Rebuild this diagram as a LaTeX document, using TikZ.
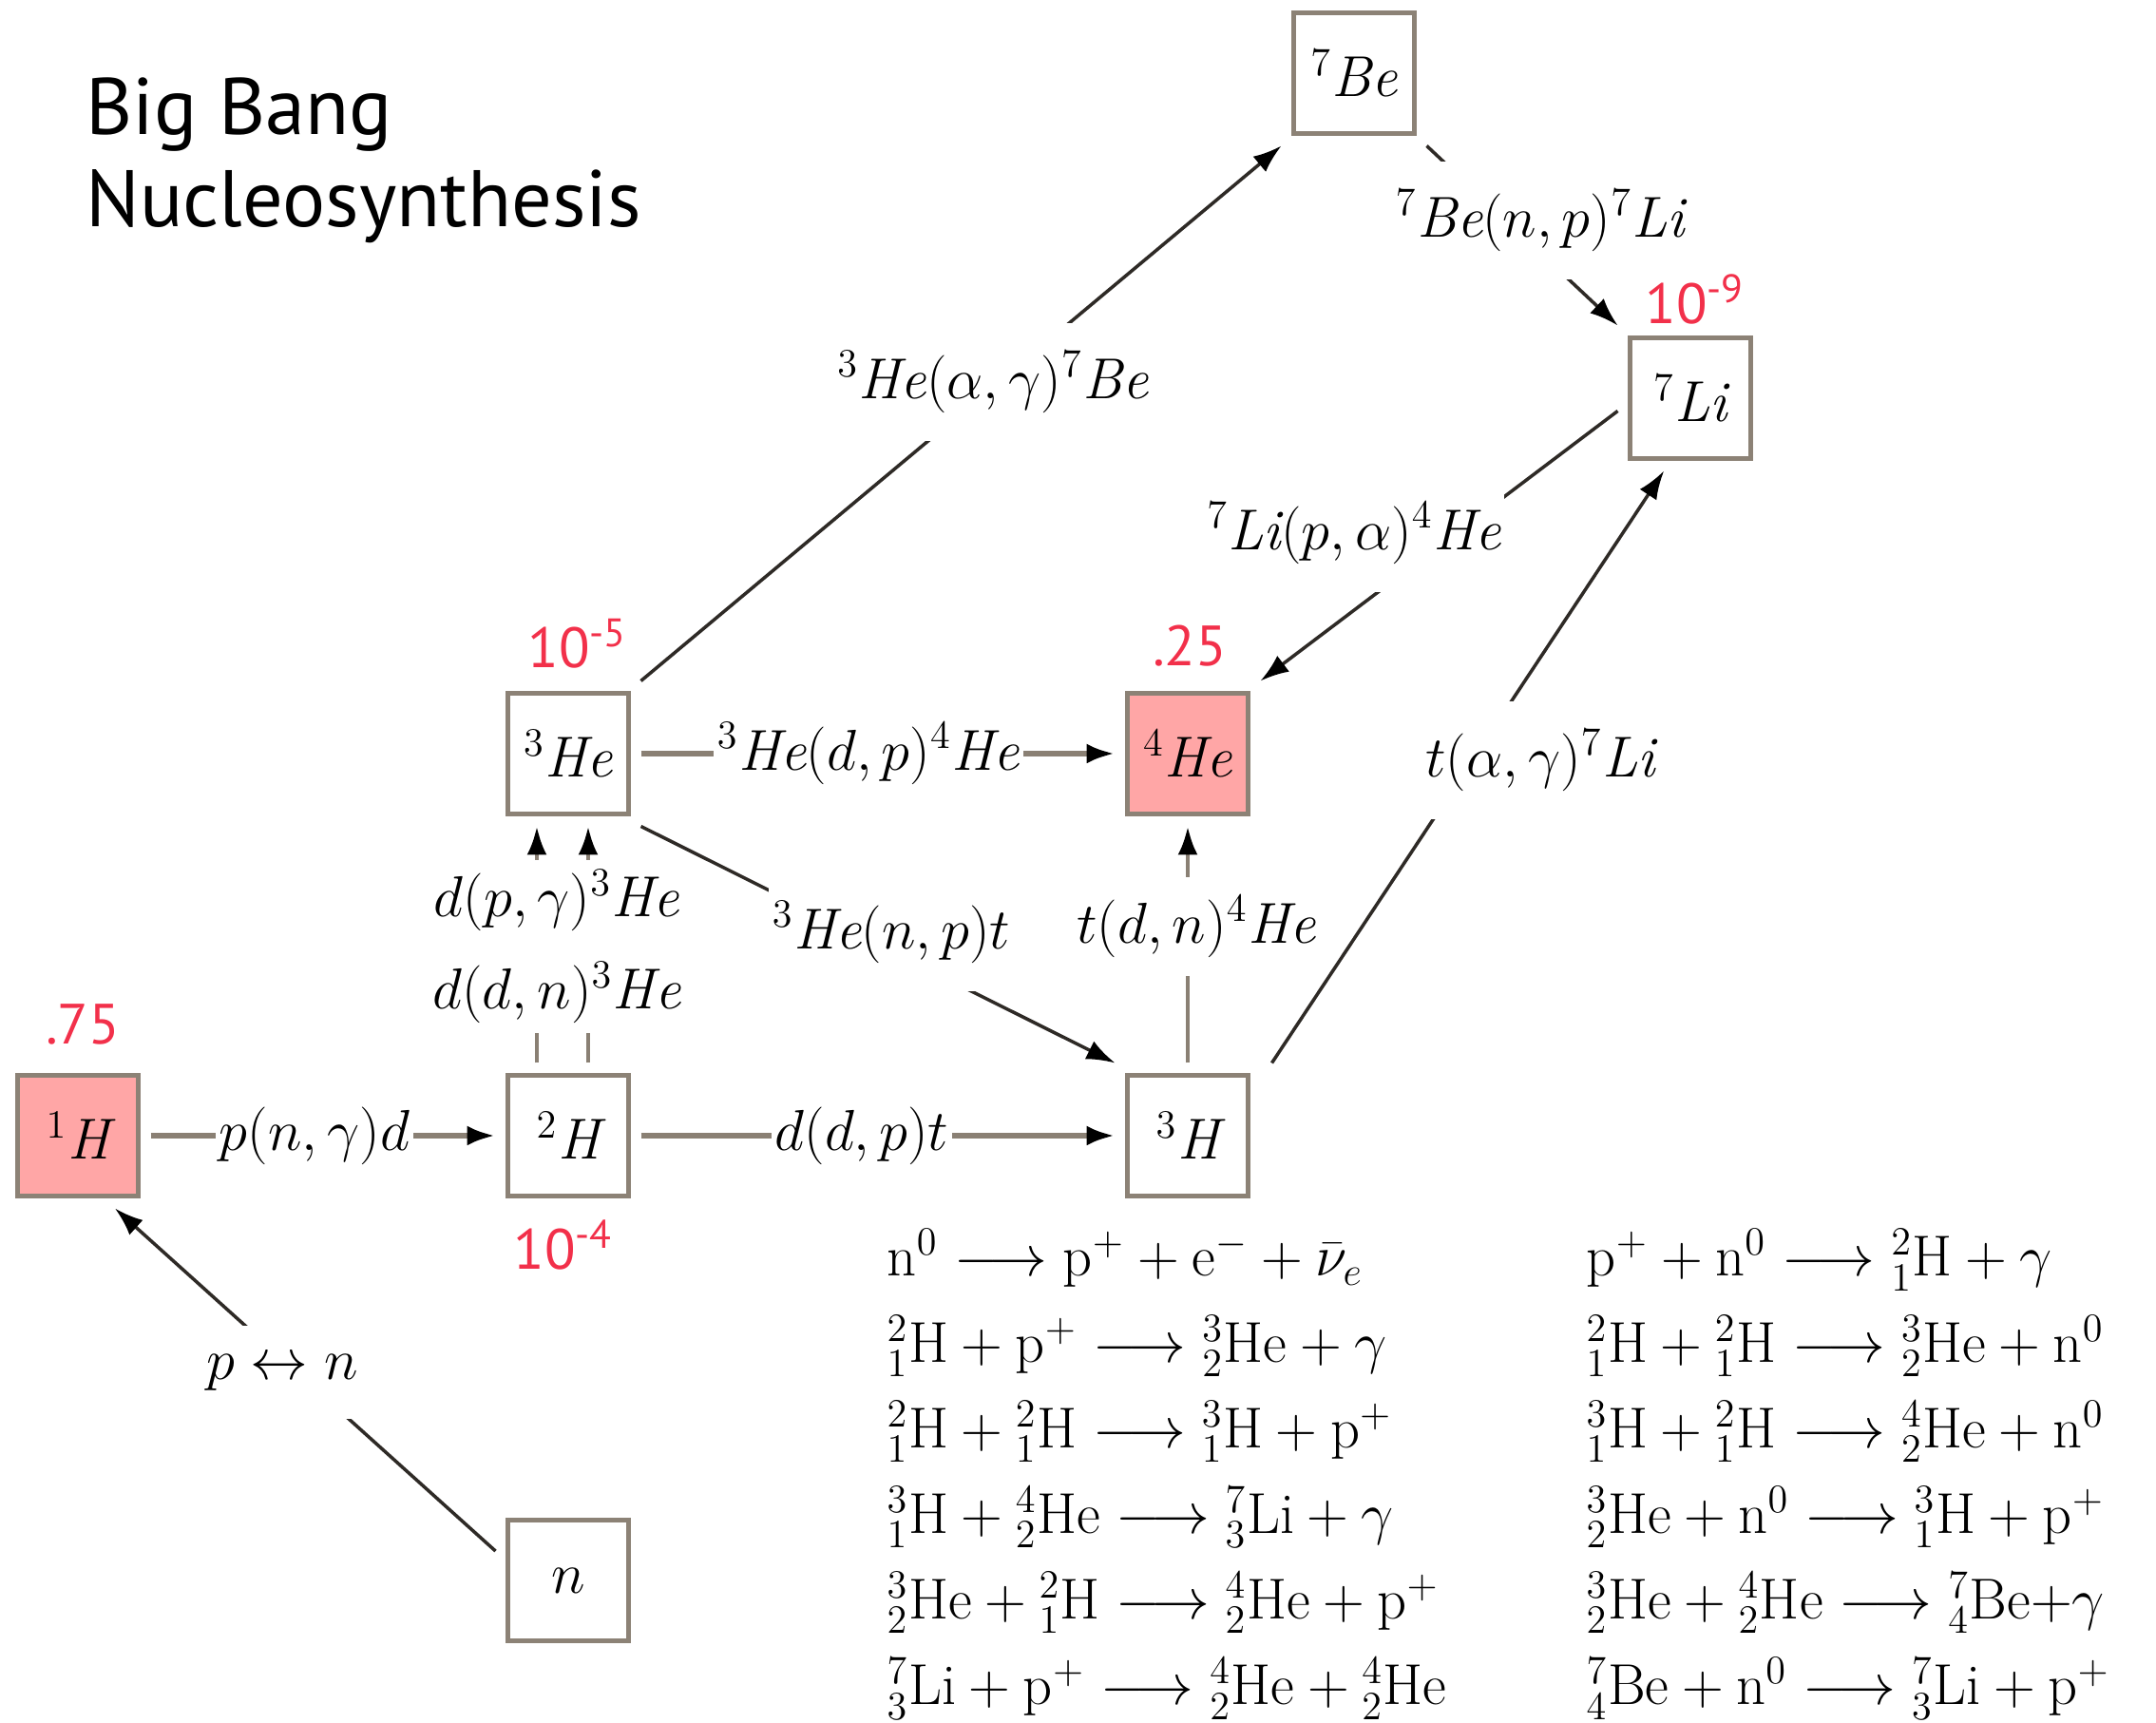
\documentclass[tikz,border=0pt]{standalone}
\usepackage{amsmath}
\usepackage{fontspec}
\usetikzlibrary{arrows.meta}
\newfontfamily\labelsans{PT Sans}
\definecolor{boxline}{HTML}{8C8276}
\definecolor{edgegray}{HTML}{8A8074}
\definecolor{edgedark}{HTML}{2E2A26}
\definecolor{abund}{HTML}{F2304A}
\definecolor{boxfill}{HTML}{FFA6A6}
\newcommand{\isot}[3]{{}^{#1}_{#2}\mathrm{#3}}
\newcommand{\nuc}[2]{{}^{#1}\mathit{#2}}

\begin{document}
\begin{tikzpicture}
    \tikzstyle{nucl} = [draw=boxline, line width=1.2pt, rectangle, minimum width=1.27cm, minimum height=1.27cm, inner sep=0pt, outer sep=0.13cm, font=\fontsize{17.28}{20}\selectfont];
    \tikzstyle{rate} = [fill=white, inner xsep=1pt, inner ysep=0.3cm, font=\fontsize{17.28}{20}\selectfont];
    \tikzstyle{frac} = [text=abund, inner sep=0pt, font=\labelsans\fontsize{17}{20}\selectfont];
    \tikzstyle{hflow} = [draw=edgegray, line width=1.7pt];
    \tikzstyle{vflow} = [draw=edgegray, line width=1.3pt];
    \tikzstyle{dflow} = [draw=edgedark, line width=1pt];
    \tikzstyle{toarr} = [-{Latex[length=0.3cm, width=0.21cm, color=black]}];
    \useasboundingbox (0,0) rectangle (22.69,18.13);

    % title
    \node (title1) at (0.90, 16.71) [anchor=base west, inner sep=0pt, font=\labelsans\fontsize{24}{29}\selectfont] {Big Bang};
    \node (title2) at (0.90, 15.74) [anchor=base west, inner sep=0pt, font=\labelsans\fontsize{24}{29}\selectfont] {Nucleosynthesis};

    % nuclides
    \node (h1)  at ( 0.82,  6.18) [nucl, fill=boxfill] {$\nuc{1}{H}$};
    \node (h2)  at ( 5.98,  6.18) [nucl] {$\nuc{2}{H}$};
    \node (h3)  at (12.50,  6.18) [nucl] {$\nuc{3}{H}$};
    \node (he3) at ( 5.98, 10.20) [nucl] {$\nuc{3}{He}$};
    \node (he4) at (12.50, 10.20) [nucl, fill=boxfill] {$\nuc{4}{He}$};
    \node (be7) at (14.25, 17.36) [nucl] {$\nuc{7}{Be}$};
    \node (li7) at (17.79, 13.94) [nucl] {$\nuc{7}{Li}$};
    \node (nn)  at ( 5.98,  1.50) [nucl] {$n$};

    \begin{scope}
      \draw[hflow, toarr] (h1.east) -- (h2.west);
      \draw[hflow, toarr] (h2.east) -- (h3.west);
      \draw[hflow, toarr] (he3.east) -- (he4.west);
      \draw[vflow, toarr] (h3.north) -- (he4.south);
      \draw[vflow, toarr] ([xshift=-0.33cm]h2.north) -- ([xshift=-0.33cm]he3.south);
      \draw[vflow, toarr] ([xshift=0.21cm]h2.north) -- ([xshift=0.21cm]he3.south);
      \draw[dflow, toarr] (he3.south east) -- (h3.north west);
      \draw[dflow, toarr] (he3.north east) -- (be7.south west);
      \draw[dflow, toarr] (be7.south east) -- (li7.north west);
      \draw[dflow, toarr] (li7.190) -- (he4.north east);
      \draw[dflow, toarr] ([xshift=0.12cm]h3.north east) -- (li7.250);
      \draw[dflow, toarr] (nn.158) -- (h1.297);
    \end{scope}

    % reaction labels
    \node (l_png)  at ( 3.31,  6.18) [rate] {$p(n,\gamma)d$};
    \node (l_ddp)  at ( 9.07,  6.18) [rate] {$d(d,p)t$};
    \node (l_hedp) at ( 9.14, 10.20) [rate] {$\nuc{3}{He}(d,p)\nuc{4}{He}$};
    \node (l_dhe)  at ( 5.86,  8.17) [rate, inner ysep=0.1cm, align=center] {$d(p,\gamma)\nuc{3}{He}$\\[0.27cm]$d(d,n)\nuc{3}{He}$};
    \node (l_henp) at ( 9.38,  8.32) [rate] {$\nuc{3}{He}(n,p)t$};
    \node (l_tdn)  at (12.59,  8.38) [rate, inner ysep=0.2cm] {$t(d,n)\nuc{4}{He}$};
    \node (l_heag) at (10.45, 14.11) [rate] {$\nuc{3}{He}(\alpha,\gamma)\nuc{7}{Be}$};
    \node (l_benp) at (16.21, 15.81) [rate] {$\nuc{7}{Be}(n,p)\nuc{7}{Li}$};
    \node (l_lipa) at (14.25, 12.52) [rate] {$\nuc{7}{Li}(p,\alpha)\nuc{4}{He}$};
    \node (l_tag)  at (16.21, 10.13) [rate] {$t(\alpha,\gamma)\nuc{7}{Li}$};
    \node (l_pn)   at ( 2.97,  3.69) [rate] {$p\leftrightarrow n$};

    % abundances
    \node (f_h1)  at ( 0.87,  7.35) [frac] {.75};
    \node (f_he3) at ( 6.08, 11.36) [frac] {10\textsuperscript{-5}};
    \node (f_h2)  at ( 5.93,  5.03) [frac] {10\textsuperscript{-4}};
    \node (f_he4) at (12.52, 11.33) [frac] {.25};
    \node (f_li7) at (17.84, 14.98) [frac] {10\textsuperscript{-9}};

    % reaction list
    \foreach \row/\lhs/\rhs in {
      1/{$\mathrm{n}^0 \longrightarrow \mathrm{p}^+ + \mathrm{e}^- + \bar{\nu}_e$}/{$\mathrm{p}^+ + \mathrm{n}^0 \longrightarrow \isot{2}{1}{H} + \gamma$},
      2/{$\isot{2}{1}{H} + \mathrm{p}^+ \longrightarrow \isot{3}{2}{He} + \gamma$}/{$\isot{2}{1}{H} + \isot{2}{1}{H} \longrightarrow \isot{3}{2}{He} + \mathrm{n}^0$},
      3/{$\isot{2}{1}{H} + \isot{2}{1}{H} \longrightarrow \isot{3}{1}{H} + \mathrm{p}^+$}/{$\isot{3}{1}{H} + \isot{2}{1}{H} \longrightarrow \isot{4}{2}{He} + \mathrm{n}^0$},
      4/{$\isot{3}{1}{H} + \isot{4}{2}{He} \longrightarrow \isot{7}{3}{Li} + \gamma$}/{$\isot{3}{2}{He} + \mathrm{n}^0 \longrightarrow \isot{3}{1}{H} + \mathrm{p}^+$},
      5/{$\isot{3}{2}{He} + \isot{2}{1}{H} \longrightarrow \isot{4}{2}{He} + \mathrm{p}^+$}/{$\isot{3}{2}{He} + \isot{4}{2}{He} \longrightarrow \isot{7}{4}{Be}{+}\gamma$},
      6/{$\isot{7}{3}{Li} + \mathrm{p}^+ \longrightarrow \isot{4}{2}{He} + \isot{4}{2}{He}$}/{$\isot{7}{4}{Be} + \mathrm{n}^0 \longrightarrow \isot{7}{3}{Li} + \mathrm{p}^+$}}
    {
      \node (eqa\row) at (9.33, {4.70-0.902*(\row-1)}) [anchor=base west, inner sep=0pt, font=\fontsize{17.28}{21}\selectfont] {\lhs};
      \node (eqb\row) at (16.69, {4.70-0.902*(\row-1)}) [anchor=base west, inner sep=0pt, font=\fontsize{17.28}{21}\selectfont] {\rhs};
    }
\end{tikzpicture}
\end{document}
